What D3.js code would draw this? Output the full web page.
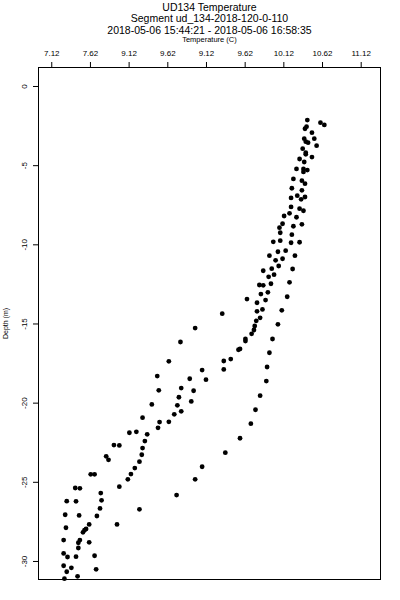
<!DOCTYPE html>
<html>
<head>
	<title>UD134 Temperature</title>
	<style>
		body { margin: 0; background: #fff; }
		text { font-family: "Liberation Sans", Arial, sans-serif; fill: #000; }
	</style>
</head>
<body>
	<svg id="container" width="400" height="600"></svg>
</body>
<script src="https://d3js.org/d3.v7.min.js"></script>
<script>
	// temperature (C) and depth (m)
	let temperature = [
		10.43, 10.60, 10.65, 10.42, 10.40, 10.49, 10.39, 10.52, 10.41, 10.44,
		10.55, 10.37, 10.41, 10.41, 10.49, 10.33, 10.39, 10.29, 10.38, 10.43,
		10.38, 10.25, 10.36, 10.40, 10.23, 10.36, 10.30, 10.22, 10.40, 10.35,
		10.22, 10.33, 10.38, 10.20, 10.13, 10.29, 10.11, 10.25, 10.36, 10.07,
		10.08, 10.23, 9.99, 10.08, 10.22, 10.33, 10.05, 10.15, 9.94, 10.02,
		10.11, 10.27, 10.06, 9.97, 10.24, 9.86, 9.93, 10.00, 10.20, 9.81,
		9.86, 9.96, 9.83, 9.92, 10.17, 9.65, 9.89, 9.78, 9.78, 9.85,
		10.10, 9.33, 9.82, 9.77, 10.05, 9.75, 8.98, 9.74, 9.71, 9.63,
		9.63, 9.98, 8.79, 9.54, 9.56, 9.94, 9.35, 9.44, 8.64, 9.91,
		9.07, 9.35, 8.91, 9.12, 8.49, 9.90, 8.51, 8.80, 8.96, 8.77,
		9.82, 8.42, 8.75, 8.93, 8.80, 9.76, 8.30, 8.71, 8.52, 8.64,
		8.50, 9.70, 8.13, 8.22, 8.36, 9.56, 8.33, 7.93, 8.00, 8.30,
		8.29, 9.37, 7.83, 7.86, 8.26, 8.20, 9.07, 8.15, 8.11, 8.98,
		7.63, 7.68, 8.00, 7.43, 7.49, 7.76, 8.74, 7.32, 7.44, 7.77,
		7.75, 8.26, 7.30, 7.48, 7.71, 7.31, 7.61, 7.97, 7.57, 7.55,
		7.53, 7.28, 7.49, 7.47, 7.61, 7.47, 7.28, 7.33, 7.44, 7.68,
		7.28, 7.38, 7.32, 7.70, 7.46, 7.29
	]
	let depth = [
		-2.15, -2.32, -2.46, -2.57, -2.70, -2.95, -3.33, -3.33, -3.52, -3.58,
		-3.77, -3.96, -4.21, -4.31, -4.49, -4.61, -4.80, -5.24, -5.24, -5.31,
		-5.43, -5.87, -5.98, -6.17, -6.46, -6.59, -6.93, -7.07, -7.01, -7.16,
		-7.64, -7.75, -7.88, -8.04, -8.21, -8.29, -8.70, -8.86, -8.74, -8.95,
		-9.27, -9.39, -9.84, -9.77, -9.90, -9.87, -10.47, -10.40, -10.72, -11.01,
		-10.91, -10.72, -11.37, -11.54, -11.56, -11.67, -12.05, -11.92, -12.40, -12.57,
		-12.59, -12.49, -13.14, -13.03, -13.31, -13.46, -13.52, -13.69, -14.23, -14.11,
		-14.17, -14.38, -14.64, -14.83, -15.05, -15.16, -15.29, -15.41, -15.65, -15.98,
		-16.11, -15.98, -16.17, -16.66, -16.61, -16.85, -17.37, -17.25, -17.39, -17.75,
		-17.94, -17.90, -18.49, -18.55, -18.32, -18.64, -19.22, -19.08, -19.25, -19.66,
		-19.56, -20.11, -20.17, -19.92, -20.55, -20.45, -20.95, -20.74, -21.23, -21.21,
		-21.59, -21.33, -21.90, -21.84, -22.00, -22.25, -22.43, -22.68, -22.70, -22.87,
		-23.29, -23.16, -23.39, -23.61, -23.73, -24.13, -24.05, -24.51, -24.84, -24.84,
		-24.53, -24.53, -25.31, -25.39, -25.41, -25.71, -25.84, -26.22, -26.23, -26.17,
		-26.68, -26.74, -27.08, -27.12, -27.16, -27.90, -27.69, -27.69, -27.98, -28.05,
		-28.19, -28.68, -28.68, -28.85, -28.82, -29.18, -29.52, -29.75, -29.73, -29.67,
		-30.30, -30.43, -30.68, -30.53, -30.97, -31.12
	]

	// tick positions, and the labels exactly as printed on the original
	let xTicks = [7.12, 7.62, 8.12, 8.62, 9.12, 9.62, 10.12, 10.62, 11.12]
	let xTickLabels = ["7.12", "7.62", "9.12", "9.62", "9.12", "9.62", "10.12", "10.62", "11.12"]
	let yTicks = [0, -5, -10, -15, -20, -25, -30]

	let titleLines = [
		"UD134 Temperature",
		"Segment ud_134-2018-120-0-110",
		"2018-05-06 15:44:21 - 2018-05-06 16:58:35"
	]

	let svg = d3.select("#container")

	let boxLeft = 38.5, boxRight = 380.5, boxTop = 67.5, boxBottom = 579.5

	let x = d3.scaleLinear()
		.domain([6.955, 11.376])
		.range([boxLeft, boxRight])

	let y = d3.scaleLinear()
		.domain([1.168, -31.17])
		.range([boxTop, boxBottom])

	// titles
	svg.selectAll(".title")
		.data(titleLines)
		.enter().append("text")
		.attr("class", "title")
		.attr("x", (boxLeft + boxRight) / 2)
		.attr("y", (d, i) => [11, 22, 34][i])
		.attr("text-anchor", "middle")
		.style("font-size", "10.5px")
		.text(d => d)

	svg.append("text")
		.attr("x", (boxLeft + boxRight) / 2)
		.attr("y", 41.5)
		.attr("text-anchor", "middle")
		.style("font-size", "7.5px")
		.text("Temperature (C)")

	// top axis
	let xAxis = svg.append("g")
		.attr("transform", `translate(0,${boxTop})`)
		.call(d3.axisTop(x)
			.tickValues(xTicks)
			.tickSize(5.5)
			.tickFormat((d, i) => xTickLabels[i]))
	xAxis.select(".domain").remove()
	xAxis.selectAll(".tick line").attr("stroke", "#000")
	xAxis.selectAll(".tick text")
		.attr("y", -11.5)
		.attr("dy", null)
		.style("font-size", "8px")
	xAxis.attr("font-family", null)

	// left axis, labels parallel to the axis (plain hyphen for the minus)
	let yAxis = svg.append("g")
		.attr("transform", `translate(${boxLeft},0)`)
		.call(d3.axisLeft(y)
			.tickValues(yTicks)
			.tickSize(5.5)
			.tickFormat(d => String(d)))
	yAxis.select(".domain").remove()
	yAxis.selectAll(".tick line").attr("stroke", "#000")
	yAxis.selectAll(".tick text")
		.attr("x", null)
		.attr("dy", null)
		.attr("text-anchor", "middle")
		.attr("transform", "translate(-11.5,0) rotate(-90)")
		.style("font-size", "8px")
	yAxis.attr("font-family", null)

	svg.append("text")
		.attr("transform", `translate(8,${(boxTop + boxBottom) / 2}) rotate(-90)`)
		.attr("text-anchor", "middle")
		.style("font-size", "7px")
		.text("Depth (m)")

	// box
	svg.append("rect")
		.attr("x", boxLeft)
		.attr("y", boxTop)
		.attr("width", boxRight - boxLeft)
		.attr("height", boxBottom - boxTop)
		.attr("fill", "none")
		.attr("stroke", "#000")
		.attr("stroke-width", 1)

	// points
	svg.append("g").selectAll("circle")
		.data(d3.range(temperature.length))
		.enter().append("circle")
		.attr("cx", i => x(temperature[i]))
		.attr("cy", i => y(depth[i]))
		.attr("r", 2.4)
		.attr("fill", "#000")
</script>
</html>
